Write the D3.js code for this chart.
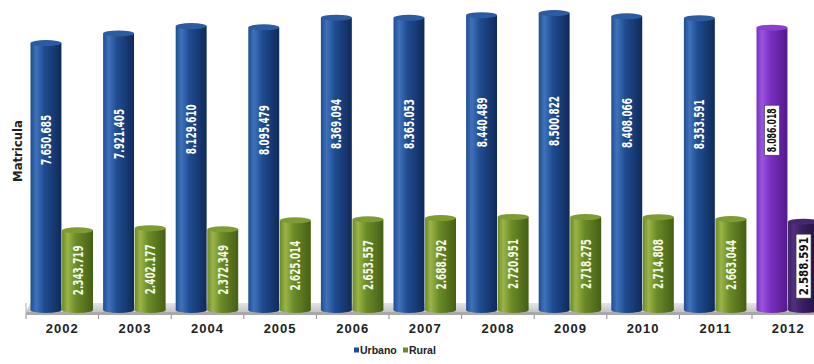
<!DOCTYPE html>
<html><head><meta charset="utf-8">
<script src="https://cdn.jsdelivr.net/npm/d3@7"></script>
<style>
html,body{margin:0;padding:0;background:#fff;}
svg{display:block;}
</style></head>
<body>
<svg id="chart" width="814" height="364"></svg>
<script>
const years = ["2002","2003","2004","2005","2006","2007","2008","2009","2010","2011","2012"];
const urbano = [7650685,7921405,8129610,8095479,8369094,8365053,8440489,8500822,8408066,8353591,8086018];
const rural  = [2343719,2402177,2372349,2625014,2653557,2688792,2720951,2718275,2714808,2663044,2588591];
const seriesNames = ["Urbano","Rural"];
const highlightYear = "2012";

const svg = d3.select("#chart");
const defs = svg.append("defs");
const fmt = d3.formatLocale({decimal:",", thousands:".", grouping:[3], currency:["",""]}).format(",d");

const baseline = 310;
const x0 = d3.scaleBand().domain(years).range([26, 26 + 72.6*years.length]).paddingInner(0);
const x1 = d3.scaleBand().domain(seriesNames).range([4.5, 67]).paddingInner(0.02);
const y = d3.scaleLinear().domain([0, 9000000]).range([baseline, -7.6]);

const palette = {
  Urbano: {light:"#3f72bb", base:"#1f4c90", dark:"#0f2a5a", cap:"#2b5ba0"},
  Rural:  {light:"#9cb447", base:"#6b8b27", dark:"#445f14", cap:"#7e9c34"},
  UrbanoH:{light:"#9a55de", base:"#7a2fc0", dark:"#531a8c", cap:"#8a40cc"},
  RuralH: {light:"#523080", base:"#3a1f62", dark:"#22103e", cap:"#452870"}
};
Object.entries(palette).forEach(([k,c])=>{
  const g = defs.append("linearGradient").attr("id","g"+k).attr("x1","0%").attr("x2","100%");
  g.append("stop").attr("offset","0%").attr("stop-color",c.base);
  g.append("stop").attr("offset","18%").attr("stop-color",c.light);
  g.append("stop").attr("offset","45%").attr("stop-color",c.base);
  g.append("stop").attr("offset","100%").attr("stop-color",c.dark);
});
const fg = defs.append("linearGradient").attr("id","floorG").attr("x1","0").attr("x2","0").attr("y1","0").attr("y2","1");
fg.append("stop").attr("offset","0%").attr("stop-color","#e6e6e6");
fg.append("stop").attr("offset","100%").attr("stop-color","#c4c4c4");

// floor
const fx0 = x0.range()[0], fx1 = x0.range()[1];
svg.append("polygon")
  .attr("points", `${fx0},${baseline+2} ${fx0+4},${baseline-7} ${fx1+4},${baseline-7} ${fx1},${baseline+2}`)
  .attr("fill","url(#floorG)");
svg.append("rect").attr("x",fx0).attr("y",baseline+2).attr("width",fx1-fx0).attr("height",3).attr("fill","#a9a9a9");
svg.append("line").attr("x1",fx0).attr("x2",fx0).attr("y1",baseline-7).attr("y2",baseline+5).attr("stroke","#b0b0b0");

// ticks
svg.append("g").selectAll("line").data(years.concat(["end"])).join("line")
  .attr("x1",(d,i)=>fx0 + i*x0.bandwidth()).attr("x2",(d,i)=>fx0 + i*x0.bandwidth())
  .attr("y1",baseline+5).attr("y2",baseline+9).attr("stroke","#8a8a8a");

// data rows
const rows = [];
years.forEach((yr,i)=>{
  rows.push({year:yr, s:"Urbano", v:urbano[i]});
  rows.push({year:yr, s:"Rural", v:rural[i]});
});

const bars = svg.append("g").selectAll("g").data(rows).join("g");
bars.each(function(d){
  const g = d3.select(this);
  const key = d.s + (d.year===highlightYear ? "H" : "");
  const c = palette[key];
  const bx = x0(d.year) + x1(d.s), bw = x1.bandwidth();
  const top = y(d.v);
  const ry = 3;
  g.append("ellipse").attr("cx",bx+bw/2).attr("cy",baseline).attr("rx",bw/2).attr("ry",ry).attr("fill","url(#g"+key+")");
  g.append("rect").attr("x",bx).attr("y",top+ry).attr("width",bw).attr("height",baseline-top-ry).attr("fill","url(#g"+key+")");
  g.append("ellipse").attr("cx",bx+bw/2).attr("cy",top+ry).attr("rx",bw/2).attr("ry",ry).attr("fill",c.cap);
});

// value labels
const labelK = {Urbano:0.37, Rural:0.52};
bars.each(function(d){
  const g = d3.select(this);
  const bx = x0(d.year) + x1(d.s) + x1.bandwidth()/2;
  const top = y(d.v);
  const cy = top + (baseline - top)*labelK[d.s];
  const hl = d.year===highlightYear;
  const len = hl ? (d.s==="Urbano" ? 44 : 58) : 50;
  if(hl){
    g.append("rect").attr("x",bx-7.5).attr("y",cy-len/2-3).attr("width",15).attr("height",len+6)
      .attr("fill","#fff").attr("stroke","#333").attr("stroke-width",0.6);
  }
  g.append("text")
    .attr("transform",`translate(${bx+ (hl?4.5:5)},${cy}) rotate(-90)`)
    .attr("text-anchor","middle")
    .attr("font-family","'Liberation Sans Narrow','DejaVu Sans Condensed',sans-serif")
    .attr("font-weight","bold").attr("font-size", hl?13:14)
    .attr("textLength",len).attr("lengthAdjust","spacingAndGlyphs")
    .attr("fill", hl ? "#111" : (d.s==="Rural" ? "#f4f8e6" : "#ffffff"))
    .text(fmt(d.v));
});

// category labels
svg.append("g").selectAll("text").data(years).join("text")
  .attr("x",d=>x0(d)+x0.bandwidth()/2).attr("y",333)
  .attr("text-anchor","middle")
  .attr("font-family","'Liberation Sans',Arial,sans-serif").attr("font-weight","bold")
  .attr("font-size",13).attr("letter-spacing",1).attr("fill","#222")
  .text(d=>d);

// y axis title
svg.append("text").attr("transform","translate(22,151) rotate(-90)")
  .attr("text-anchor","middle")
  .attr("font-family","'Liberation Sans Narrow','DejaVu Sans Condensed',sans-serif")
  .attr("font-weight","bold").attr("font-size",13).attr("fill","#222")
  .attr("textLength",62).attr("lengthAdjust","spacingAndGlyphs")
  .text("Matricula");

// legend
const legend = svg.append("g");
const legX = [354, 403];
seriesNames.forEach((s,i)=>{
  legend.append("rect").attr("x",legX[i]).attr("y",347.5).attr("width",5).attr("height",5).attr("fill",palette[s].base);
  legend.append("text").attr("x",legX[i]+6).attr("y",353.5)
    .attr("font-family","'Liberation Sans',Arial,sans-serif").attr("font-weight","bold")
    .attr("font-size",10.5).attr("fill","#222").text(s);
});
</script>
</body></html>
